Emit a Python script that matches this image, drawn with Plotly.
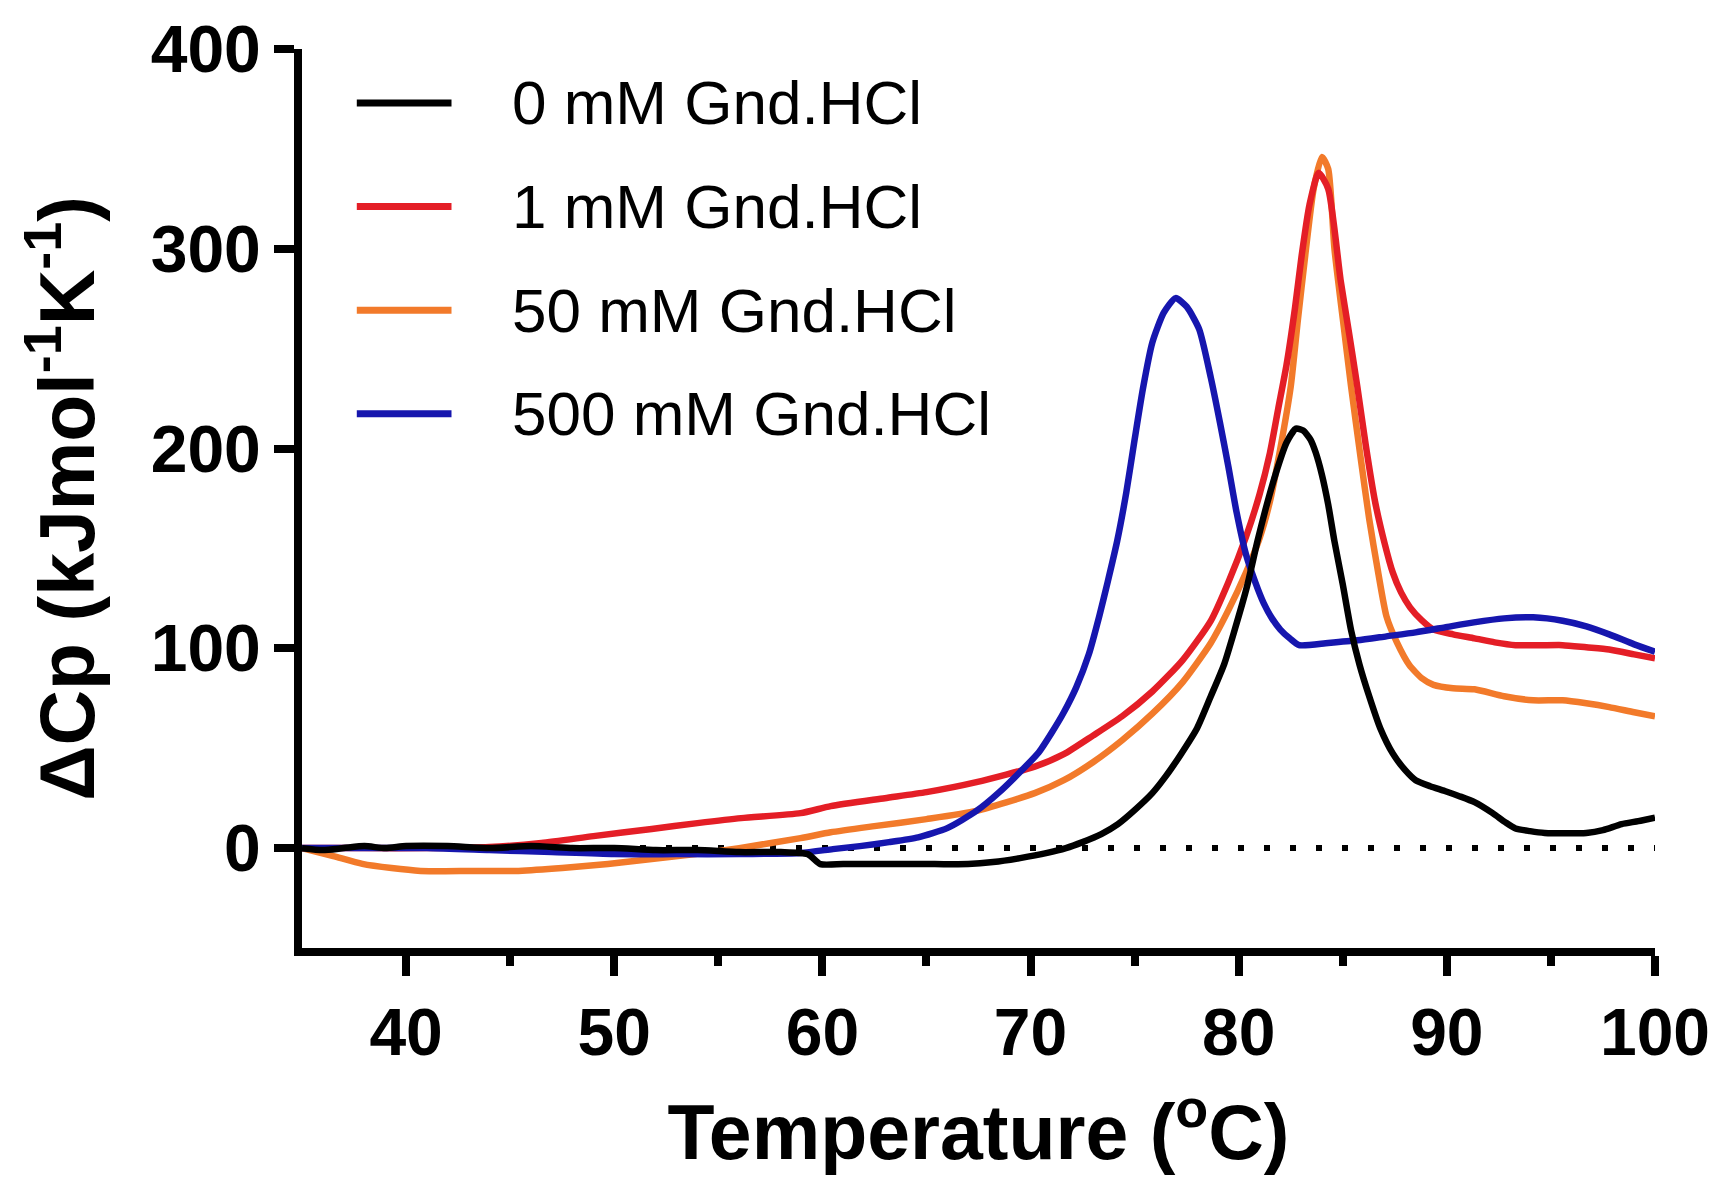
import plotly.graph_objects as go

# ---------------- data ----------------
names = ["0 mM Gnd.HCl", "1 mM Gnd.HCl", "50 mM Gnd.HCl", "500 mM Gnd.HCl"]
colors = ["#000000", "#e41e26", "#f27a2a", "#1616ae"]

t_0mM = [35, 36, 37, 38, 39, 40, 42, 44, 46, 48, 50, 52, 54, 56, 58, 59.3, 59.9, 61, 63, 65.4,
         67, 68.2, 69.5, 70.8, 71.7, 72.5, 73.4, 74.2, 75, 75.85, 76.5, 77.25, 78, 78.66, 79.3,
         79.8, 80.4, 80.9, 81.3, 81.76, 82.3, 82.75, 83.1, 83.45, 83.7, 84.0, 84.3, 84.6, 85.0,
         85.4, 85.8, 86.27, 86.8, 87.4, 88.0, 88.5, 89.2, 89.9, 90.6, 91.33, 92.2, 92.8, 93.3,
         94, 94.7, 95.7, 96.7, 97.5, 98.4, 99.2, 100]
cp_0mM = [0, -1, 0, 1, 0, 1, 1, 0, 1, 0, 0, -1, -1, -2, -2, -3, -8, -8, -8, -8,
          -8, -7, -5, -2.4, 0, 3, 7, 12, 19, 27.5, 36, 47.4, 60, 76, 92,
          109, 131, 153.6, 170, 186.8, 203, 210, 209, 204.5, 198, 186.8, 172, 153.6, 132,
          109, 92, 76, 60, 47.4, 39, 34, 31, 28.6, 26, 23, 17.5, 13, 9.8,
          8.5, 7.6, 7.4, 7.6, 9, 12, 13.5, 15.3]

t_1mM = [35, 38, 41, 44, 46.5, 49, 51.8, 54, 56.1, 58.95, 60.4, 63, 65, 67.4, 70.2, 71.6, 73.0,
         74.4, 75.85, 77.3, 78.66, 79.5, 80.35, 81.0, 81.5, 81.9, 82.3, 82.7, 83.03, 83.4, 83.84,
         84.3, 84.9, 85.3, 85.7, 86.1, 86.55, 87.0, 87.4, 87.8, 88.24, 88.8, 89.36, 90.3, 91.33,
         92.3, 93.3, 94.4, 95.56, 96.7, 97.8, 99, 100]
cp_1mM = [0, 0, 0, 0.5, 2.6, 6, 9.6, 12.5, 15, 17.5, 21, 25, 28, 33, 40.8, 47, 56.3,
          66, 78.4, 94, 113.8, 133, 155.8, 177, 197.8, 220, 242, 270, 297, 322, 338,
          330, 284, 258, 231, 202, 173.5, 153, 138, 128, 120.4, 114, 109.4, 107, 105,
          103, 101.6, 101.5, 101.6, 100.5, 99.4, 97, 95]

t_50mM = [35, 36.5, 37.9, 39.3, 40.7, 43, 45.4, 47.5, 49.7, 51.8, 53.9, 56, 58.95, 60.4, 62.5,
          65, 67.4, 70.2, 71.6, 73.0, 74.4, 75.85, 77.3, 78.66, 79.5, 80.35, 81.0, 81.5, 82.0,
          82.5, 82.85, 83.2, 83.6, 84.0, 84.3, 84.6, 85.0, 85.4, 85.85, 86.27, 86.7, 87.1, 87.6,
          88.2, 88.8, 89.36, 90.3, 91.33, 92.75, 94.15, 95.56, 96.7, 97.8, 99, 100]
cp_50mM = [0, -4, -7.9, -10, -11.4, -11.5, -11.4, -10, -7.9, -5.5, -3, 0, 5, 7.9, 11,
           14.5, 18.6, 27.5, 34, 43, 54, 67.3, 83, 102.7, 119, 138, 155, 173.5, 200,
           231, 265, 297, 330, 346, 340, 300, 265, 231, 196, 164.7, 138, 116, 103,
           91.6, 85, 81.7, 80, 79.5, 76, 74, 74, 72.5, 70.6, 68, 66]

t_500mM = [35, 38, 41, 44, 47, 50, 53, 56, 58.95, 60.5, 61.8, 63.2, 64.6, 66, 67.4, 68.5, 69.65,
           70.4, 71.06, 71.6, 72.2, 72.8, 73.3, 73.7, 74.16, 74.6, 75.0, 75.4, 75.85, 76.4, 76.97,
           77.5, 78.1, 78.66, 79.1, 79.5, 79.9, 80.35, 80.8, 81.2, 81.6, 82.0, 82.45, 82.9, 84.3,
           85.7, 87.1, 88.5, 89.9, 91.3, 92.75, 94.15, 95.56, 96.7, 97.8, 99, 100]
cp_500mM = [0, 0, 0, -1, -2, -3, -3, -3, -2.4, -0.5, 1, 3, 5.4, 10, 18.6, 28, 39.7,
            48, 58.5, 68, 80.6, 97, 116, 133, 153.6, 178, 204.5, 230, 253, 268, 275.3,
            271, 259.8, 235.5, 213, 191.2, 168, 147, 133, 122.6, 115, 109.4, 105, 101.6, 102.7,
            104, 106, 108, 110.5, 113, 115, 115.5, 113.8, 111, 107, 102, 98.3]

x_ticks = [40, 50, 60, 70, 80, 90, 100]
x_minor_ticks = [45, 55, 65, 75, 85, 95]
y_ticks = [0, 100, 200, 300, 400]
x_range = [35, 100]
y_range = [-50, 400]

series_t = [t_0mM, t_1mM, t_50mM, t_500mM]
series_cp = [cp_0mM, cp_1mM, cp_50mM, cp_500mM]

FONT = "Liberation Sans, Arial, Helvetica, sans-serif"

fig = go.Figure()

# dotted zero baseline
fig.add_trace(go.Scatter(x=x_range, y=[0, 0], mode="lines", showlegend=False,
                         line=dict(color="black", width=6, dash="6px,20px")))

# draw order: orange, red, blue, black
for i in [2, 1, 3, 0]:
    fig.add_trace(go.Scatter(x=series_t[i], y=series_cp[i], mode="lines", name=names[i],
                             showlegend=False,
                             line=dict(color=colors[i], width=6.5, shape="spline", smoothing=0.6)))

# manual legend (long line samples like the original)
row_y = [0.940, 0.8248, 0.7095, 0.5942]
for i, nm in enumerate(names):
    fig.add_shape(type="line", xref="paper", yref="paper", x0=0.0405, x1=0.1105,
                  y0=row_y[i], y1=row_y[i], line=dict(color=colors[i], width=7))
    fig.add_annotation(xref="paper", yref="paper", x=0.154, y=row_y[i], text=nm,
                       showarrow=False, xanchor="left", yanchor="middle",
                       font=dict(family=FONT, size=62, color="black"))

fig.update_layout(
    width=1722, height=1190,
    margin=dict(l=302, r=63, t=46, b=242),
    paper_bgcolor="white", plot_bgcolor="white",
    showlegend=False,
    font=dict(family=FONT, color="black"),
)

fig.update_xaxes(
    range=x_range, tickvals=x_ticks, showgrid=False, zeroline=False,
    showline=True, linewidth=8, linecolor="black",
    ticks="outside", ticklen=20, tickwidth=8, tickcolor="black",
    minor=dict(ticks="outside", ticklen=10, tickwidth=8, tickcolor="black",
               tickvals=x_minor_ticks, showgrid=False),
    tickfont=dict(family=FONT, size=66, weight="bold", color="black"),
    title=dict(text="Temperature (<sup>o</sup>C)", font=dict(family=FONT, size=77, weight="bold", color="black"),
               standoff=40),
)
fig.update_yaxes(
    range=y_range, tickvals=y_ticks, showgrid=False, zeroline=False,
    showline=True, linewidth=8, linecolor="black",
    ticks="outside", ticklen=20, tickwidth=8, tickcolor="black",
    tickfont=dict(family=FONT, size=66, weight="bold", color="black"),
    title=dict(text="ΔCp (kJmol<sup>-1</sup>K<sup>-1</sup>)", font=dict(family=FONT, size=77, weight="bold", color="black"),
               standoff=34),
)

fig.write_html("out.html")
